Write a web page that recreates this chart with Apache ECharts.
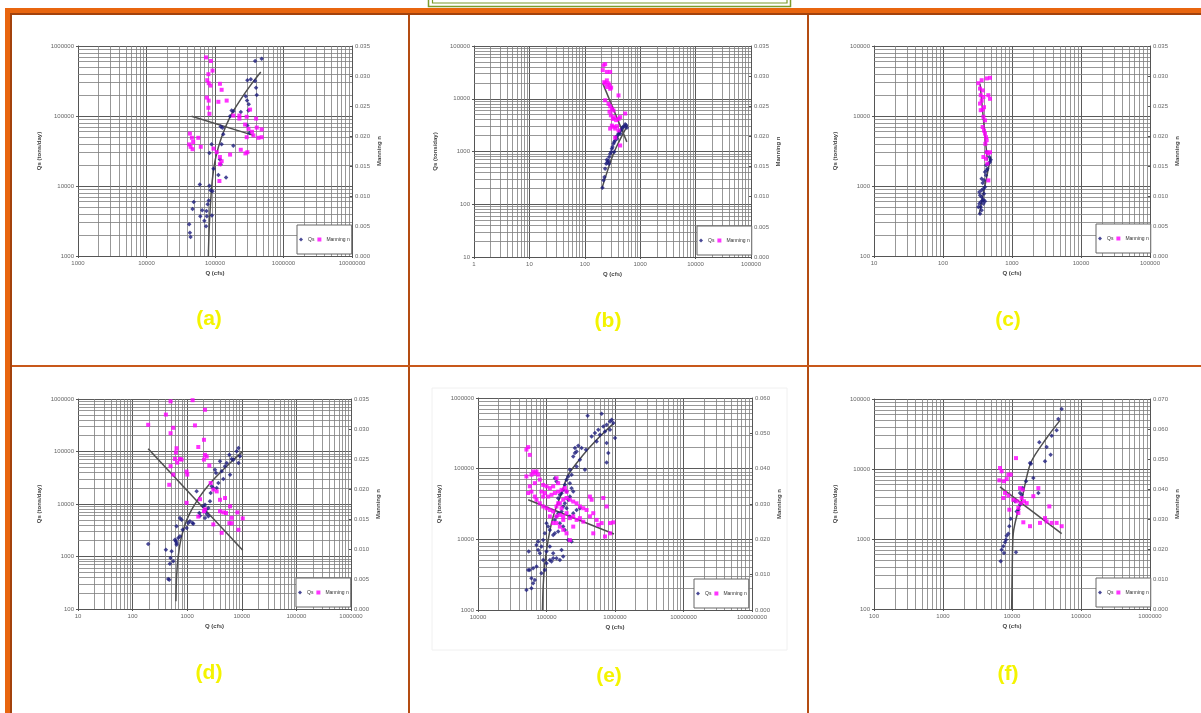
<!DOCTYPE html>
<html><head><meta charset="utf-8">
<script src="https://cdn.jsdelivr.net/npm/echarts@6/dist/echarts.min.js"></script>
<style>html,body{margin:0;padding:0;background:#fff;}#c{width:1201px;height:713px;}</style>
</head><body><div id="c"></div>
<script>
// ---------- DATA ----------
const panelLabels = ['(a)','(b)','(c)','(d)','(e)','(f)'];
const xRanges  = [[1e3,1e7],[1,1e5],[10,1e5],[10,1e6],[1e4,1e8],[100,1e6]];
const qsRanges = [[1e3,1e6],[10,1e5],[100,1e5],[100,1e6],[1e3,1e6],[100,1e5]];
const nRanges  = [[0,0.035,0.005],[0,0.035,0.005],[0,0.035,0.005],[0,0.035,0.005],[0,0.06,0.01],[0,0.07,0.01]];
const xName = 'Q (cfs)', qsName = 'Qs (tons/day)', nName = 'Manning n';

const qsA = [[3.85e5,6.1e5],[4.8e5,6.6e5],[2.97e5,3.24e5],[3.33e5,3.34e5],[3.85e5,3.16e5],[3.98e5,2.54e5],[4.07e5,2.0e5],[2.81e5,1.91e5],[2.94e5,1.67e5],[3.11e5,1.47e5],[1.75e5,1.2e5],[1.85e5,1.17e5],[2.38e5,1.14e5],[3.08e5,1.2e5],[1.66e5,9.9e4],[1.21e5,7.1e4],[1.28e5,6.8e4],[2.97e5,7.3e4],[3.18e5,5.7e4],[1.85e5,3.77e4],[1.32e5,5.5e4],[1.25e5,3.94e4],[8.9e4,3.94e4],[8.3e4,2.96e4],[1.18e5,2.4e4],[1.21e5,2.04e4],[1.45e5,1.32e4],[1.12e5,1.44e4],[9.5e4,1.77e4],[6.0e4,1.05e4],[8.3e4,1.01e4],[8.6e4,8.7e3],[9.2e4,8.4e3],[4.9e4,5.9e3],[4.7e4,4.7e3],[8.1e4,6.2e3],[7.8e4,5.5e3],[7.5e4,4.4e3],[7.6e4,3.7e3],[9.0e4,3.8e3],[7.0e4,3.2e3],[7.4e4,2.66e3],[4.2e4,2.83e3],[4.3e4,2.15e3],[4.4e4,1.87e3],[6.1e4,3.7e3],[6.5e4,4.5e3]];
const nA = [[7.4e4,0.0331],[8.7e4,0.0325],[8.0e4,0.0303],[9.2e4,0.0309],[7.7e4,0.0293],[8.1e4,0.0288],[8.6e4,0.0284],[1.18e5,0.0287],[1.25e5,0.0277],[7.6e4,0.0264],[8.1e4,0.0259],[1.12e5,0.0257],[1.48e5,0.0259],[8.0e4,0.0247],[8.3e4,0.0237],[2.27e5,0.0234],[2.9e5,0.0232],[3.98e5,0.0229],[3.25e5,0.0244],[2.75e5,0.0219],[3.08e5,0.0212],[3.47e5,0.0207],[4.07e5,0.0214],[4.8e5,0.0211],[2.9e5,0.0198],[3.64e5,0.0201],[4.3e5,0.0197],[4.8e5,0.0198],[4.3e4,0.0204],[4.6e4,0.0197],[5.7e4,0.0197],[4.8e4,0.0190],[4.4e4,0.0182],[4.7e4,0.0178],[6.2e4,0.0182],[4.2e4,0.0186],[1.06e5,0.0173],[1.18e5,0.0165],[1.25e5,0.0158],[1.66e5,0.0169],[2.38e5,0.0177],[2.78e5,0.0171],[2.97e5,0.0173],[1.18e5,0.0153],[1.16e5,0.0125],[1.85e5,0.0234],[2.27e5,0.0229],[9.5e4,0.0179]];
const qsTrendA = [[8.0e4,1000],[8.2e4,2.3e3],[8.65e4,6.2e3],[9.25e4,1.35e4],[1.03e5,2.6e4],[1.25e5,5.0e4],[1.66e5,9.7e4],[2.32e5,1.67e5],[3.44e5,2.9e5],[4.66e5,4.26e5]];
const nTrendA = [[4.56e4,0.0233],[3.64e5,0.0201]];

const qsB = [[208,206],[217,284],[226,328],[233,472],[243,587],[257,631],[250,700],[275,785],[287,908],[299,977],[308,1130],[316,1216],[330,1406],[339,1510],[353,1625],[368,1880],[379,1750],[389,2020],[406,2170],[423,2340],[447,2510],[466,2700],[486,2910],[514,2990],[536,3270],[558,3130],[574,2830],[435,2170],[339,977],[272,587],[268,659]];
const nB = [[217,0.0318],[233,0.0320],[250,0.0307],[211,0.0310],[287,0.0307],[224,0.0290],[233,0.0288],[250,0.0293],[268,0.0288],[279,0.0285],[287,0.0279],[299,0.0281],[250,0.0282],[406,0.0268],[233,0.0260],[268,0.0254],[287,0.0250],[308,0.0246],[330,0.0243],[279,0.0241],[295,0.0235],[321,0.0229],[339,0.0232],[368,0.0227],[406,0.0229],[435,0.0232],[536,0.0238],[308,0.0218],[330,0.0216],[353,0.0213],[379,0.0217],[406,0.0210],[287,0.0213],[353,0.0198],[435,0.0185]];
const qsTrendB = [[203,197],[339,977],[590,3130]];
const nTrendB = [[211,0.0288],[574,0.0191]];

const qsC = [[344,403],[363,449],[325,501],[336,560],[352,591],[376,624],[385,638],[363,697],[344,736],[393,777],[336,820],[363,867],[385,916],[406,968],[376,1104],[393,1205],[363,1273],[420,1420],[406,1585],[430,1675],[440,1770],[420,1972],[454,2084],[480,2203],[491,2377],[469,2594],[430,3060],[352,501],[385,560],[406,604]];
const nC = [[325,0.0288],[363,0.0293],[430,0.0296],[480,0.0297],[344,0.0279],[376,0.0276],[352,0.0268],[385,0.0265],[454,0.0268],[480,0.0262],[363,0.0259],[344,0.0254],[393,0.0248],[376,0.0244],[352,0.0243],[385,0.0232],[406,0.0226],[376,0.0215],[393,0.0209],[406,0.0204],[420,0.0198],[430,0.0193],[411,0.0187],[430,0.0173],[454,0.0171],[480,0.0173],[420,0.0162],[440,0.0154],[454,0.0126],[385,0.0165]];
const qsTrendC = [[336,403],[491,2594]];
const nTrendC = [[344,0.0287],[440,0.0159]];

const qsD = [[193,1730],[407,1350],[518,1253],[496,935],[482,730],[555,809],[449,373],[469,362],[596,2094],[621,1945],[639,1807],[685,2250],[639,3758],[736,5400],[789,5030],[824,3240],[975,3490],[1047,4345],[1122,4677],[1256,4345],[1292,4220],[1489,17420],[1667,6745],[1714,6000],[1972,9030],[2117,9700],[2209,7800],[2271,6550],[2117,5410],[2438,8400],[2614,11250],[2805,21700],[3010,20200],[3230,45100],[3370,38900],[3470,20200],[3720,25100],[3990,65000],[4280,41900],[4590,29900],[4930,52100],[5290,60400],[5920,87000],[6530,71900],[7010,69900],[8070,100700],[8670,116600],[9290,80900],[8670,60400],[6090,36200],[2690,16200],[2440,5820],[639,1680],[736,2420]];
const nD = [[193,0.0307],[407,0.0324],[496,0.0346],[1256,0.0348],[2117,0.0332],[555,0.0302],[496,0.0293],[1387,0.0306],[2028,0.0282],[639,0.0268],[1596,0.0270],[621,0.0261],[736,0.0250],[789,0.0249],[658,0.0244],[596,0.0250],[2117,0.0257],[2271,0.0254],[2028,0.0249],[2541,0.0239],[555,0.0224],[975,0.0229],[1002,0.0224],[496,0.0238],[469,0.0207],[2690,0.0210],[3010,0.0199],[975,0.0177],[1714,0.0183],[2117,0.0166],[3470,0.0196],[3990,0.0182],[4930,0.0185],[3990,0.0163],[4590,0.0161],[5140,0.0160],[6090,0.0171],[8300,0.0161],[10400,0.0151],[6530,0.0152],[5920,0.0143],[8670,0.0132],[4280,0.0127],[3010,0.0141],[1596,0.0154],[2028,0.0163],[6530,0.0143]];
const qsTrendD = [[621,140],[639,419],[685,1007],[789,2420],[1047,5820],[1714,14000],[3010,29000],[6090,60400],[10400,100700]];
const nTrendD = [[193,0.0267],[10400,0.0098]];

const qsE = [[398400,561000],[638300,598400],[845300,466400],[893700,492000],[946200,441600],[755100,418800],[674500,396300],[570300,355600],[509600,319000],[455600,285800],[845300,355600],[1000000,271000],[714500,336500],[602800,302000],[755100,230000],[798000,166000],[755100,122500],[539400,242700],[376700,185000],[325100,195400],[290600,211000],[275000,175400],[260000,166000],[245600,148900],[307500,133700],[363800,96400],[275000,107400],[260000,195400],[219500,96400],[232200,81800],[207600,77500],[196200,69500],[219500,62400],[185500,59100],[175400,50200],[196200,47500],[165800,45000],[156700,42600],[148000,38200],[132500,73400],[140000,65900],[232200,52900],[245600,47500],[219500,40400],[207600,36200],[185500,32500],[175400,29100],[196200,27600],[165800,24700],[148000,23400],[140000,21000],[132500,18800],[156700,16900],[175400,15200],[185500,13600],[148000,12900],[132500,12200],[125200,11560],[111900,13600],[105800,15200],[100000,16900],[94600,12200],[89400,9820],[84500,7890],[71400,8340],[75500,7080],[79800,6350],[100000,6710],[111900,7890],[125200,6350],[140000,5400],[156700,5120],[175400,5700],[165800,7080],[111900,5120],[118300,4840],[100000,4580],[89400,5120],[94600,3690],[84500,3310],[71400,4110],[63800,3890],[57000,3690],[54000,3690],[60300,2810],[63800,2390],[67500,2660],[50900,1920],[60300,2030],[219500,21000],[245600,23400],[275000,26100],[307500,27600],[232200,9290],[207600,9820],[125200,5400],[75500,9290],[55100,6710]];
const nE = [[54000,0.0461],[57000,0.0439],[50900,0.0454],[63800,0.0392],[67500,0.0387],[60300,0.0383],[71400,0.0392],[75500,0.0383],[50900,0.0378],[54000,0.0331],[57000,0.0350],[67500,0.0359],[79800,0.0369],[89400,0.0354],[100000,0.0350],[111900,0.0345],[125200,0.0350],[140000,0.0373],[148000,0.0359],[84500,0.0335],[94600,0.0331],[105800,0.0321],[118300,0.0326],[132500,0.0331],[148000,0.0335],[165800,0.0340],[185500,0.0345],[196200,0.0335],[71400,0.0312],[79800,0.0302],[89400,0.0293],[100000,0.0288],[111900,0.0283],[125200,0.0279],[140000,0.0293],[156700,0.0302],[175400,0.0312],[196200,0.0317],[219500,0.0312],[245600,0.0307],[275000,0.0302],[307500,0.0293],[344400,0.0288],[384700,0.0283],[140000,0.0265],[156700,0.0269],[175400,0.0265],[196200,0.0274],[219500,0.0260],[245600,0.0265],[275000,0.0255],[307500,0.0260],[344400,0.0250],[430500,0.0321],[455600,0.0312],[674500,0.0317],[755100,0.0293],[539400,0.0255],[570300,0.0241],[638300,0.0246],[845300,0.0246],[946200,0.0248],[714500,0.0208],[845300,0.0217],[481700,0.0217],[111900,0.0265],[125200,0.0246],[156700,0.0236],[175400,0.0227],[196200,0.0217],[219500,0.0198],[245600,0.0236],[148000,0.0302],[165800,0.0288],[430500,0.0265],[481700,0.0274],[89400,0.0321],[60300,0.0335],[67500,0.0321],[140000,0.0246],[175400,0.0255]];
const qsTrendE = [[87300,1000],[89400,2140],[94600,4580],[105800,9820],[125200,21000],[165800,45000],[207600,81800],[344400,157000],[539400,256500],[946200,434000]];
const nTrendE = [[54000,0.0312],[966000,0.0215]];

const qsF = [[52480,71950],[46900,51760],[44360,35650],[37570,29920],[31770,20610],[36310,16030],[30080,12880],[24900,24030],[24090,4540],[20370,7430],[18850,11910],[15960,6670],[14280,5350],[13810,4300],[13070,3090],[12360,2620],[11690,2480],[11050,3450],[9570,1950],[9150,1517],[8850,1191],[8380,1116],[8190,978],[7920,896],[7490,785],[7080,705],[6860,480],[7660,631],[11420,645],[13070,4540],[18240,12190]];
const nF = [[6700,0.0470],[7080,0.0459],[6550,0.0429],[7660,0.0426],[8380,0.0433],[8850,0.0448],[9570,0.0448],[11420,0.0503],[7920,0.0387],[7490,0.0370],[8850,0.0378],[13070,0.0403],[14280,0.0398],[13810,0.0370],[14920,0.0359],[16330,0.0353],[11690,0.0359],[12360,0.0337],[9150,0.0331],[12360,0.0320],[14590,0.0289],[18240,0.0276],[20370,0.0376],[24090,0.0403],[25470,0.0287],[34750,0.0342],[30080,0.0303],[31770,0.0292],[37570,0.0287],[44360,0.0287],[52480,0.0276],[13370,0.0353],[10450,0.0364]];
const qsTrendF = [[9890,100],[10120,507],[10450,1218],[11690,2110],[13810,3650],[18660,12190],[31770,27700],[49700,49500]];
const nTrendF = [[6700,0.0407],[52480,0.0251]];

// ---------- LAYOUT ----------
const qsSets = [qsA,qsB,qsC,qsD,qsE,qsF];
const nSets = [nA,nB,nC,nD,nE,nF];
const qsTrends = [qsTrendA,qsTrendB,qsTrendC,qsTrendD,qsTrendE,qsTrendF];
const nTrends = [nTrendA,nTrendB,nTrendC,nTrendD,nTrendE,nTrendF];
const boxes = [[78,46,274,210],[474,46,277,211],[874,46,276,210],[78,399,273,210],[478,398,274,212],[874,399,276,210]];
const legendPos = [[297,225],[697,226],[1096,224],[296,578],[694,579],[1096,578]];
const labelPos = [[209,319],[608,321],[1008,320],[209,673],[609,676],[1008,674]];
const FF = '"Liberation Sans", Arial, sans-serif';

function minorVals(lo, hi) {
  const out = [];
  const d0 = Math.round(Math.log10(lo)), d1 = Math.round(Math.log10(hi));
  for (let d = d0; d < d1; d++) for (let k = 2; k <= 9; k++) out.push(k * Math.pow(10, d));
  return out;
}
const fmtInt = v => String(Math.round(v));

const grid = [], xAxis = [], yAxis = [], series = [], legend = [];
for (let i = 0; i < 6; i++) {
  const b = boxes[i];
  grid.push({left:b[0], top:b[1], width:b[2], height:b[3], containLabel:false, outerBoundsMode:'none'});
  xAxis.push({type:'log', logBase:10, gridIndex:i, min:xRanges[i][0], max:xRanges[i][1],
    name:xName, nameLocation:'middle', nameGap:14,
    nameTextStyle:{fontSize:6, fontWeight:'bold', color:'#444', fontFamily:FF},
    axisLine:{show:true, lineStyle:{color:'#555', width:1}},
    axisTick:{show:true, length:2, lineStyle:{color:'#555'}},
    axisLabel:{fontSize:6, color:'#666', margin:4, formatter:fmtInt, showMinLabel:true, showMaxLabel:true, fontFamily:FF},
    splitLine:{show:true, lineStyle:{color:'#5a5a5a', width:1}}});
  yAxis.push({type:'log', logBase:10, gridIndex:i, position:'left', min:qsRanges[i][0], max:qsRanges[i][1],
    name:qsName, nameLocation:'middle', nameGap:36,
    nameTextStyle:{fontSize:6, fontWeight:'bold', color:'#444', fontFamily:FF},
    axisLine:{show:true, lineStyle:{color:'#555', width:1}},
    axisTick:{show:true, length:2, lineStyle:{color:'#555'}},
    axisLabel:{fontSize:6, color:'#666', margin:4, formatter:fmtInt, showMinLabel:true, showMaxLabel:true, fontFamily:FF},
    splitLine:{show:true, lineStyle:{color:'#5a5a5a', width:1}}});
  yAxis.push({type:'value', gridIndex:i, position:'right', min:nRanges[i][0], max:nRanges[i][1], interval:nRanges[i][2],
    name:nName, nameLocation:'middle', nameGap:24,
    nameTextStyle:{fontSize:6, fontWeight:'bold', color:'#444', fontFamily:FF},
    axisLine:{show:true, lineStyle:{color:'#555', width:1}},
    axisTick:{show:true, inside:true, length:2, lineStyle:{color:'#555'}},
    axisLabel:{fontSize:6, color:'#666', margin:3, formatter:v => v.toFixed(3), showMinLabel:true, showMaxLabel:true, fontFamily:FF},
    splitLine:{show:false}});
  const gl = minorVals(xRanges[i][0], xRanges[i][1]).map(v => ({xAxis:v}))
    .concat(minorVals(qsRanges[i][0], qsRanges[i][1]).map(v => ({yAxis:v})));
  series.push({type:'scatter', name:'Qs', xAxisIndex:i, yAxisIndex:2*i, data:qsSets[i],
    symbol:'diamond', symbolSize:4.5, itemStyle:{color:'#1c1c7c'}, z:4, silent:true,
    markLine:{silent:true, symbol:['none','none'], label:{show:false}, z:1, animation:false,
      lineStyle:{color:'#7e7e7e', width:0.8, type:'solid'}, emphasis:{disabled:true}, data:gl}});
  series.push({type:'scatter', name:'Manning n', xAxisIndex:i, yAxisIndex:2*i+1, data:nSets[i],
    symbol:'rect', symbolSize:4, itemStyle:{color:'#ff00ff'}, z:4, silent:true});
  series.push({type:'line', name:'QsTrend'+i, xAxisIndex:i, yAxisIndex:2*i, data:qsTrends[i],
    smooth:0.3, symbol:'none', lineStyle:{color:'#4f4f4f', width:1.5}, z:3, silent:true});
  series.push({type:'line', name:'nTrend'+i, xAxisIndex:i, yAxisIndex:2*i+1, data:nTrends[i],
    symbol:'none', lineStyle:{color:'#4f4f4f', width:1.5}, z:3, silent:true});
  legend.push({left:legendPos[i][0], top:legendPos[i][1], orient:'horizontal', selectedMode:false,
    itemWidth:4, itemHeight:4, itemGap:3, padding:[12,2,12,2], borderColor:'#666', borderWidth:1,
    backgroundColor:'#fff', textStyle:{fontSize:5, color:'#333', fontFamily:FF},
    data:[{name:'Qs', icon:'diamond'}, {name:'Manning n', icon:'rect'}]});
}

const graphic = [
  {type:'rect', shape:{x:432, y:388, width:355, height:262}, style:{fill:'none', stroke:'#f0f0f0', lineWidth:1}, silent:true},
  {type:'rect', shape:{x:5, y:8, width:1196, height:5}, style:{fill:'#E8650F'}, silent:true},
  {type:'rect', shape:{x:10, y:13, width:1191, height:2}, style:{fill:'#A3420C'}, silent:true},
  {type:'rect', shape:{x:5, y:8, width:5, height:705}, style:{fill:'#E8650F'}, silent:true},
  {type:'rect', shape:{x:10, y:13, width:2, height:700}, style:{fill:'#A3420C'}, silent:true},
  {type:'rect', shape:{x:408, y:15, width:2, height:698}, style:{fill:'#B44C12'}, silent:true},
  {type:'rect', shape:{x:807, y:15, width:2, height:698}, style:{fill:'#B44C12'}, silent:true},
  {type:'rect', shape:{x:12, y:365, width:1189, height:2}, style:{fill:'#C8581A'}, silent:true},
  {type:'rect', shape:{x:428.5, y:-6, width:362, height:12.5}, style:{fill:'none', stroke:'#7C9B2C', lineWidth:1.5}, silent:true},
  {type:'rect', shape:{x:432.5, y:-6, width:354.5, height:9}, style:{fill:'none', stroke:'#7C9B2C', lineWidth:1.2}, silent:true}
];
for (let i = 0; i < 6; i++) {
  graphic.push({type:'text', x:labelPos[i][0], y:labelPos[i][1], silent:true,
    style:{text:panelLabels[i], fill:'#F4F400', font:'bold 21px ' + FF, textAlign:'center', textVerticalAlign:'middle'}});
}

const chart = echarts.init(document.getElementById('c'), null, {renderer:'canvas'});
chart.setOption({animation:false, backgroundColor:'#fff', grid, xAxis, yAxis, series, legend, graphic, tooltip:{show:false}});
</script></body></html>
